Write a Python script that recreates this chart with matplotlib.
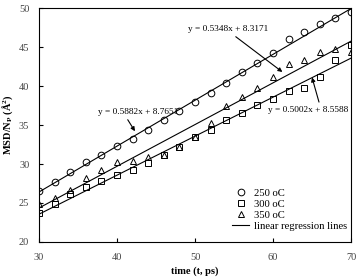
import numpy as np
import matplotlib.pyplot as plt

# time (ps) and MSD values
t = np.arange(30, 71, 2)
msd_250 = [26.5, 27.7, 29.0, 30.2, 31.1, 32.3, 33.2, 34.3, 35.6, 36.8, 38.0,
           39.1, 40.4, 41.8, 43.0, 44.2, 46.0, 46.9, 47.9, 48.7, 49.5]
msd_300 = [23.7, 24.9, 26.2, 27.0, 27.8, 28.6, 29.2, 30.1, 31.2, 32.2, 33.5,
           34.4, 35.7, 36.6, 37.6, 38.3, 39.4, 39.8, 41.2, 43.3, 45.3]
msd_350 = [24.9, 25.6, 26.7, 28.2, 29.2, 30.2, 30.4, 30.9, 31.1, 32.2, 33.4,
           35.2, 37.4, 38.6, 39.7, 41.1, 42.8, 43.4, 44.3, 44.8, 44.4]

slopes = [0.5882, 0.5348, 0.5002]
intercepts = [8.7651, 8.3171, 8.5588]
labels = ['250 oC', '300 oC', '350 oC']

plt.rcParams['font.family'] = ['Liberation Serif', 'DejaVu Serif']
plt.rcParams['mathtext.fontset'] = 'custom'
plt.rcParams['mathtext.rm'] = 'Liberation Serif'
plt.rcParams['mathtext.bf'] = 'Liberation Serif:bold'

fig = plt.figure(figsize=(3.56, 2.77), dpi=100)
ax = fig.add_axes([0.1096, 0.1264, 0.8764, 0.8446])

mk = dict(ls='none', mfc='none', mec='k', ms=4.8, mew=0.7)
ax.plot(t, msd_250, marker='o', label=labels[0], **mk)
ax.plot(t, msd_300, marker='s', label=labels[1], **mk)
ax.plot(t, msd_350, marker='^', label=labels[2], **mk)

xx = np.array([30, 70])
for i in range(3):
    ax.plot(xx, slopes[i]*xx + intercepts[i], c='k', lw=0.8,
            label='linear regression lines' if i == 0 else None)

def arrow(rel):
    return dict(arrowstyle='-|>', color='k', lw=0.8, mutation_scale=6,
                shrinkA=1, shrinkB=0, relpos=rel)

ax.annotate('y = %.4fx + %.4f' % (slopes[0], intercepts[0]), xy=(42.3, 34.2),
            xytext=(42.7, 36.7), fontsize=6.7, ha='center', va='center',
            arrowprops=arrow((0.34, 0)))
ax.annotate('y = %.4fx + %.4f' % (slopes[1], intercepts[1]), xy=(61.2, 41.8),
            xytext=(54.2, 47.3), fontsize=6.7, ha='center', va='center',
            arrowprops=arrow((0.54, 0)))
ax.annotate('y = %.4fx + %.4f' % (slopes[2], intercepts[2]), xy=(65.0, 41.1),
            xytext=(64.5, 36.9), fontsize=6.7, ha='center', va='center',
            arrowprops=arrow((0.65, 1)))

ax.set_xlim(30, 70)
ax.set_ylim(20, 50)
ax.set_xticks([30, 40, 50, 60, 70])
ax.set_yticks([20, 25, 30, 35, 40, 45, 50])
ax.tick_params(direction='in', labelsize=7.5, labelcolor='#444', length=3)
ax.tick_params(axis='x', pad=8)
ax.tick_params(axis='y', pad=7)
for s in ax.spines.values():
    s.set_linewidth(0.8)

ax.set_xlabel('time (t, ps)', fontsize=7.5, fontweight='bold', labelpad=3)
ax.set_ylabel('MSD/N$_\\mathbf{P}$ ($\\mathbf{\\AA^2}$)', fontsize=7.5,
              fontweight='bold', labelpad=3)

ax.legend(loc='lower right', bbox_to_anchor=(1.0, 0.028), frameon=False,
          fontsize=7.7, handlelength=1.6, labelspacing=0.15,
          handletextpad=0.4, borderaxespad=0)

fig.savefig('out.png', dpi=100)
